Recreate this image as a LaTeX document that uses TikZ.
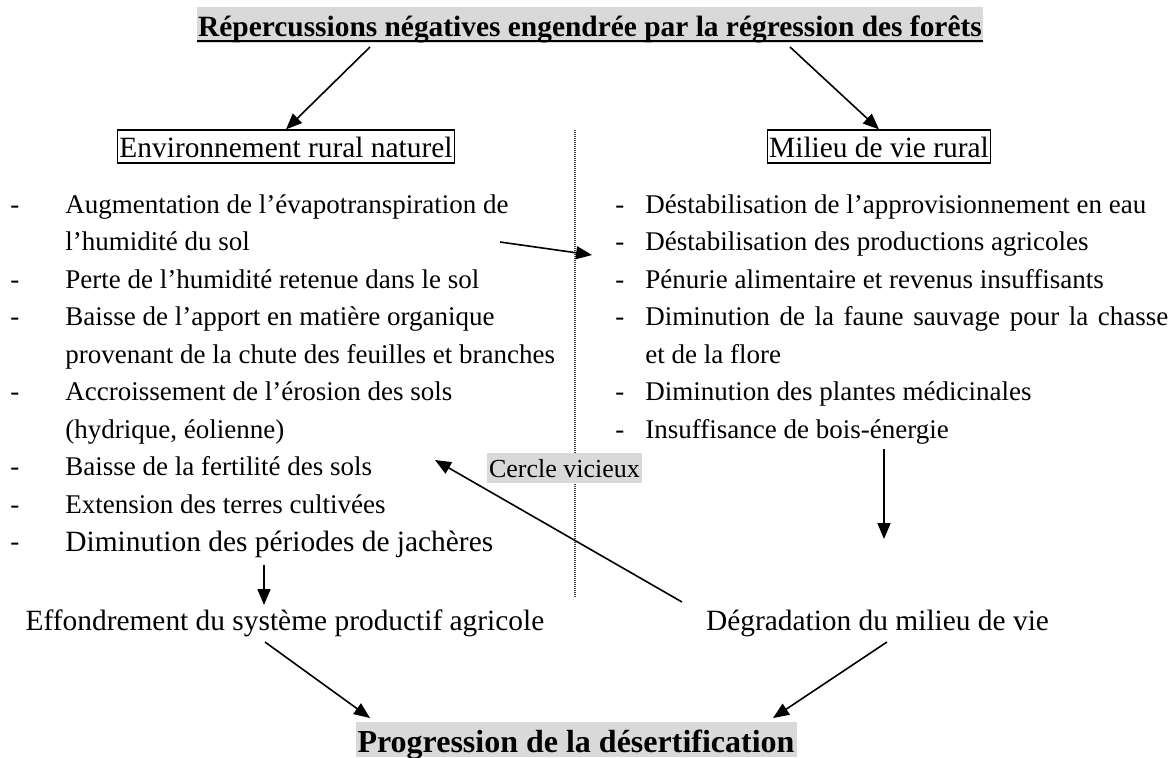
\documentclass[tikz,border=0pt]{standalone}
\usepackage{fontspec}
\setmainfont{Liberation Serif}
\usetikzlibrary{arrows.meta}
\definecolor{shade}{HTML}{D9D9D9}
\tikzset{
  arr/.style={line width=0.8pt,-{Triangle[length=8pt,width=6.5pt]}},
  item/.style={anchor=base west,inner sep=0pt,font=\fontsize{13.5}{16}\selectfont},
  bigitem/.style={anchor=base west,inner sep=0pt,font=\fontsize{14.7}{17}\selectfont},
  plain/.style={anchor=base,inner sep=0pt,font=\fontsize{14.7}{17}\selectfont},
  frame/.style={draw,line width=0.6pt,inner xsep=1pt,inner ysep=0pt,
    text height=13.5pt,text depth=3pt,anchor=base,font=\fontsize{14.7}{17}\selectfont},
  shaded/.style={fill=shade,inner ysep=0pt,anchor=base},
  divider/.style={line width=0.6pt,black!75,dash pattern=on 0.5pt off 0.5pt}
}
\begin{document}
\begin{tikzpicture}[x=0.5pt,y=-0.5pt]
\useasboundingbox (0,0) rectangle (1176,757);

% heading
\node[shaded,inner xsep=0.5pt,text height=14.5pt,text depth=3.5pt,
  font=\bfseries\fontsize{14.7}{17}\selectfont] (title) at (590,36)
  {Répercussions négatives engendrée par la régression des forêts};
\draw[line width=1pt] ([yshift=-2.5pt]title.base west) -- ([yshift=-2.5pt]title.base east);

% the two framed headings
\node[frame] (env) at (286,157) {Environnement rural naturel};
\node[frame] (milieu) at (879,157) {Milieu de vie rural};

% dividing line
\coordinate (dtop) at (575,130);
\coordinate (dbot) at (575,598);
\draw[divider] (dtop) -- (dbot);

% left column
\foreach \n/\y in {1/213,3/288,4/325.5,6/400.5,8/475.5,9/513,10/550.5}
  \node[item] (dl\n) at (10,\y) {-};
\node[item] (l1) at (65,213) {Augmentation de l’évapotranspiration de};
\node[item] (l2) at (65,250.5) {l’humidité du sol};
\node[item] (l3) at (65,288) {Perte de l’humidité retenue dans le sol};
\node[item] (l4) at (65,325.5) {Baisse de l’apport en matière organique};
\node[item] (l5) at (65,363) {provenant de la chute des feuilles et branches};
\node[item] (l6) at (65,400.5) {Accroissement de l’érosion des sols};
\node[item] (l7) at (65,438) {(hydrique, éolienne)};
\node[item] (l8) at (65,475.5) {Baisse de la fertilité des sols};
\node[item] (l9) at (65,513) {Extension des terres cultivées};
\node[bigitem] (l10) at (65,551) {Diminution des périodes de jachères};

% right column
\foreach \n/\y in {1/213,2/250.5,3/288,4/325.5,6/400.5,7/438}
  \node[item] (dr\n) at (615,\y) {-};
\node[item] (r1) at (645,213) {Déstabilisation de l’approvisionnement en eau};
\node[item] (r2) at (645,250.5) {Déstabilisation des productions agricoles};
\node[item] (r3) at (645,288) {Pénurie alimentaire et revenus insuffisants};
\node[item] (r4) at (645,325.5) {\makebox[261.5pt][s]{Diminution de la faune sauvage pour la chasse}};
\node[item] (r5) at (645,363) {et de la flore};
\node[item] (r6) at (645,400.5) {Diminution des plantes médicinales};
\node[item] (r7) at (645,438) {Insuffisance de bois-énergie};

% loop label
\node[shaded,inner xsep=1pt,text height=12pt,text depth=3pt,
  font=\fontsize{13}{15}\selectfont] (cercle) at (564.5,477) {Cercle vicieux};

% consequences
\node[plain] (eff) at (285,630) {Effondrement du système productif agricole};
\node[plain] (degr) at (877.5,630) {Dégradation du milieu de vie};
\node[shaded,inner xsep=1pt,text height=15pt,text depth=2.5pt,
  font=\bfseries\fontsize{16}{19}\selectfont] (prog) at (576,752)
  {Progression de la désertification};

% arrow ends
\coordinate (t1) at (370,47);
\coordinate (t2) at (790,47);
\coordinate (s3) at (500,242);
\coordinate (e3) at (592,255);
\coordinate (s4) at (682,602);
\coordinate (e4) at (435,460);
\coordinate (s5) at (884,449);
\coordinate (e5) at (884,539);
\coordinate (s6) at (264,565);
\coordinate (e6) at (264,605);
\coordinate (s7) at (265,642);
\coordinate (e7) at (370,718);
\coordinate (s8) at (887,642);
\coordinate (e8) at (773,718);

% arrows
\draw[arr] (t1) -- (env.north);
\draw[arr] (t2) -- (milieu.north);
\draw[arr] (s3) -- (e3);
\draw[arr] (s4) -- (e4);
\draw[arr] (s5) -- (e5);
\draw[arr] (s6) -- (e6);
\draw[arr] (s7) -- (e7);
\draw[arr] (s8) -- (e8);
\end{tikzpicture}
\end{document}
